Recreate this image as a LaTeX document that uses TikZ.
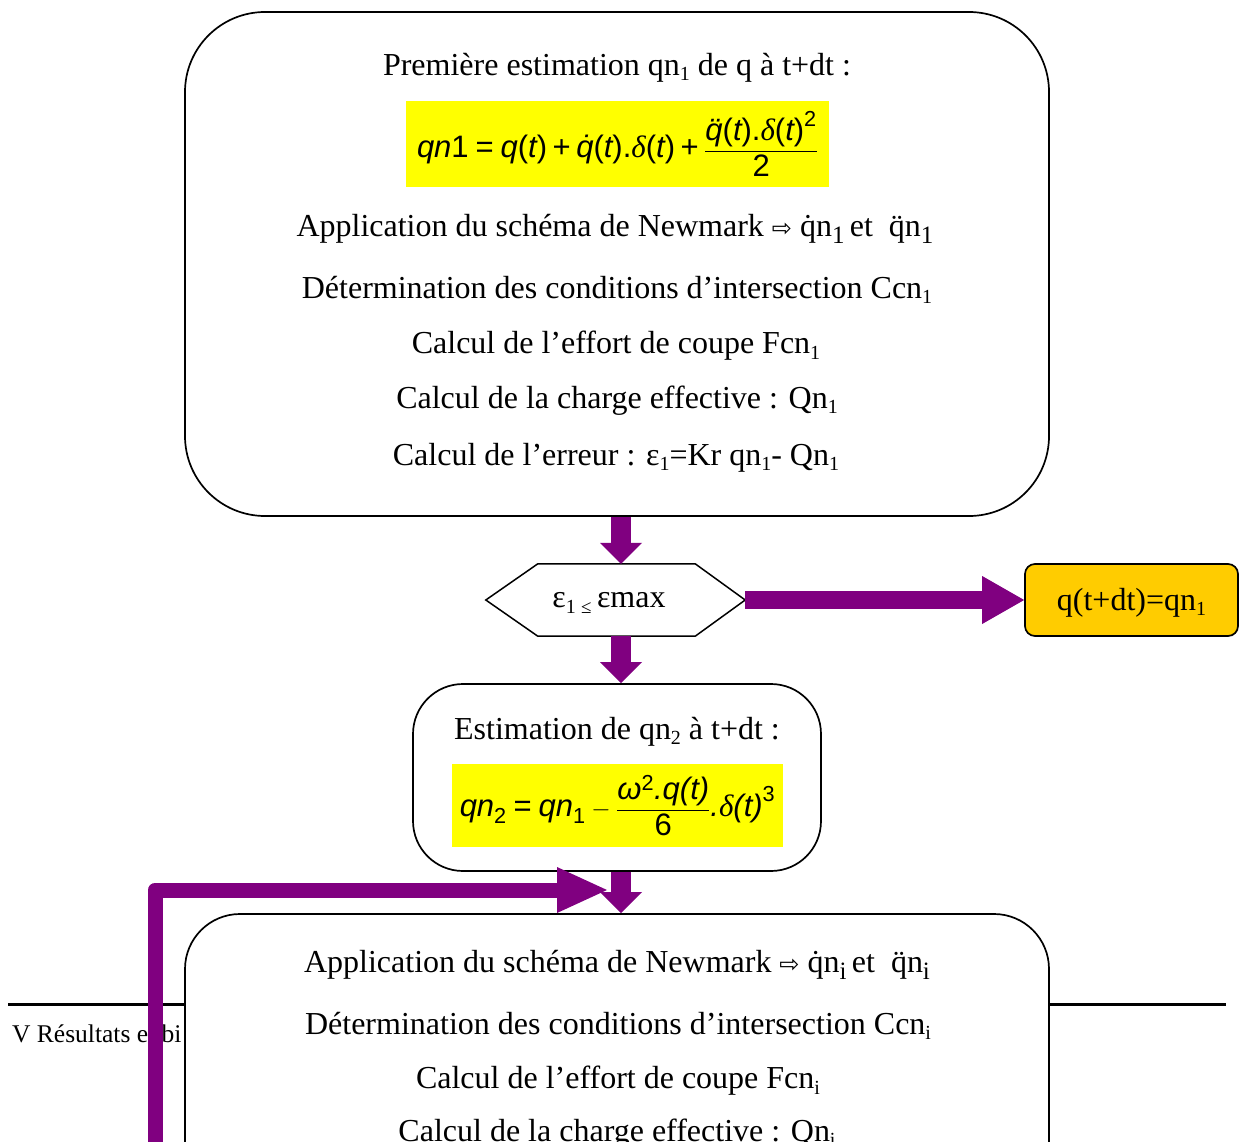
\documentclass[tikz,border=0pt]{standalone}
\usepackage{fontspec}
\usepackage{amsmath}
\setmainfont{Liberation Serif}
\newfontfamily\arl{Liberation Sans}
\newfontfamily\djv{DejaVu Sans}
\usetikzlibrary{arrows.meta,calc}
\definecolor{myPurple}{HTML}{800080}
\definecolor{fYellow}{HTML}{FFFF00}
\definecolor{fOrange}{HTML}{FFCC00}
\newlength\qw
\newcommand\ovq[1]{\settowidth\qw{q}\makebox[0pt][l]{\makebox[\qw]{#1}}q}
\newcommand\sbs[1]{\raisebox{-0.35ex}{\fontsize{20}{20}\selectfont #1}}
\newcommand\sbb[1]{\raisebox{-0.45ex}{\fontsize{25}{25}\selectfont #1}}
\newcommand\ai[1]{\text{\arl\itshape #1}}
\newcommand\au[1]{\text{\arl #1}}
\newcommand\dl{\text{\itshape δ}}
\newcommand\rarr{{\djv\fontsize{24}{24}\selectfont ⇨}}
\begin{document}
\begin{tikzpicture}[x=1pt,y=-1pt,
  every node/.style={inner sep=0pt},
  tx/.style={font=\fontsize{32}{38}\selectfont},
  txl/.style={tx, yshift=-3pt},
  rbox/.style={draw, line width=1.7pt, fill=white},
  fml/.style={fill=fYellow},
  parr/.style={draw=myPurple, line width=20pt, -{Triangle[width=42pt,length=21pt,line width=0pt]}},
]
\useasboundingbox (0,0) rectangle (1239,1142);
% footer rule and text
\coordinate (ruleL) at (8,1004);
\coordinate (ruleR) at (1226,1004);
\draw[line width=3pt] (ruleL) -- (ruleR);
\node[anchor=west, font=\fontsize{25.5}{30}\selectfont] (footer) at (12,1034) {V Résultats et bi};

% Box 1
\node[rbox, rounded corners=80pt, minimum width=864pt, minimum height=504pt] (box1) at (617,264) {};
\node[txl] (t11) at (617,65) {Première estimation qn\sbs{1} de q à t+dt :};
\node[fml, minimum width=423pt, minimum height=86pt] (f1) at (617.5,144) {\fontsize{31}{36}\selectfont
  $\ai{qn}\au{1}\mathrel{\au{=}}\ai{q}\au{(}\ai{t}\au{)}\mathbin{\au{+}}\ai{\ovq{˙}}\au{(}\ai{t}\au{).}\dl\au{(}\ai{t}\au{)}\mathbin{\au{+}}\dfrac{\ai{\ovq{¨}}\au{(}\ai{t}\au{).}\dl\au{(}\ai{t}\au{)}^{\au{2}}}{\au{2}}$};
\node[txl] (t12) at (615,226) {Application du schéma de Newmark \rarr\ \ovq{˙}n\sbb{1}\,et \ \ovq{¨}n\sbb{1}};
\node[txl] (t13) at (617,287) {Détermination des conditions d’intersection Ccn\sbs{1}};
\node[txl] (t14) at (616,343) {Calcul de l’effort de coupe Fcn\sbs{1}};
\node[txl] (t15) at (617,398) {Calcul de la charge effective : Qn\sbs{1}};
\node[txl] (t16) at (616,455) {Calcul de l’erreur : ε\sbs{1}=Kr qn\sbs{1}- Qn\sbs{1}};

% Hexagon
\node[minimum width=259pt, minimum height=72pt] (hex) at (615.5,600) {};
\draw[line width=1.5pt, line join=miter] (hex.west) -- ([xshift=52pt]hex.north west) -- ([xshift=-50pt]hex.north east) -- (hex.east) -- ([xshift=-50pt]hex.south east) -- ([xshift=52pt]hex.south west) -- cycle;
\node[tx] (hext) at (609,603) {ε\sbs{1}\,\raisebox{-0.35ex}{\fontsize{19}{19}\selectfont ≤}\,εmax};

% Orange box
\node[draw, line width=1.7pt, fill=fOrange, rounded corners=10pt, minimum width=213pt, minimum height=72pt] (res) at (1131.5,600) {};
\node[txl] (rest) at (res.center) {q(t+dt)=qn\sbs{1}};

% Box 2
\node[rbox, rounded corners=50pt, minimum width=408pt, minimum height=187pt] (box2) at (617,777.5) {};
\node[txl] (t21) at (617,729) {Estimation de qn\sbs{2} à t+dt :};
\node[fml, minimum width=331pt, minimum height=83pt] (f2) at (617.5,805.5) {\fontsize{31}{36}\selectfont
  $\ai{qn}_{\au{2}}\mathrel{\au{=}}\ai{qn}_{\au{1}}-\dfrac{\ai{ω}^{\au{2}}\ai{.q(t)}}{\au{6}}\ai{.}\dl\ai{(t)}^{\au{3}}$};

% Box 3
\node[rbox, rounded corners=55pt, minimum width=864pt, minimum height=400pt] (box3) at (617,1114) {};
\node[txl] (t31) at (617,962) {Application du schéma de Newmark \rarr\ \ovq{˙}n\sbb{i}\,et \ \ovq{¨}n\sbb{i}};
\node[txl] (t32) at (618,1023) {Détermination des conditions d’intersection Ccn\sbs{i}};
\node[txl] (t33) at (618,1078) {Calcul de l’effort de coupe Fcn\sbs{i}};
\node[txl] (t34) at (617,1131) {Calcul de la charge effective : Qn\sbs{i}};

% Arrows
\draw[parr] ([xshift=4pt]box1.south) -- ([xshift=4pt]box1.south |- hex.north);
\draw[parr] ([xshift=5.5pt]hex.south) -- ([xshift=5.5pt]hex.south |- box2.north);
\draw[parr] ([xshift=4pt]box2.south) -- ([xshift=4pt]box2.south |- box3.north);
\draw[draw=myPurple, line width=18pt, -{Triangle[width=48pt,length=42pt,line width=0pt]}] (hex.east) -- (res.west);
\coordinate (fbstart) at (155,1160);
\coordinate (fbend) at (607,890);
\draw[draw=myPurple, line width=15pt, line join=round, -{Triangle[width=46pt,length=50pt,line width=0pt]}] (fbstart) |- (fbend);
\end{tikzpicture}
\end{document}
